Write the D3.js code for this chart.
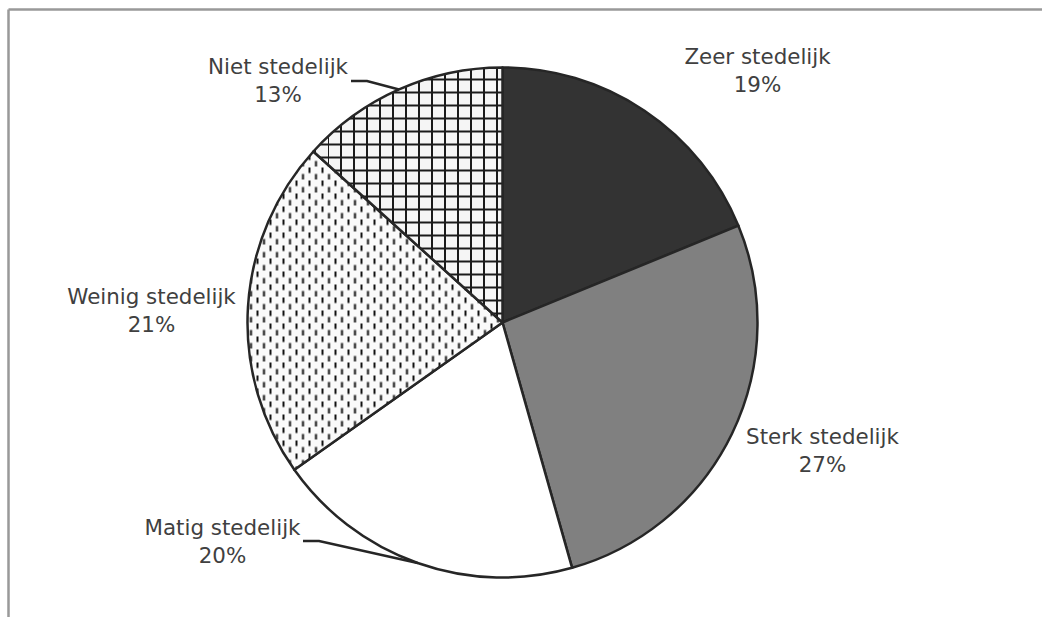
<!DOCTYPE html>
<html>
<head>
<meta charset="utf-8">
<script src="https://cdn.jsdelivr.net/npm/d3@7/dist/d3.min.js"></script>
<style>
html,body{margin:0;padding:0;background:#fff;}
svg{display:block;}
</style>
</head>
<body>
<svg id="chart" width="1042" height="617"></svg>
<script>
// ---- data ----
const categories = ["Zeer stedelijk", "Sterk stedelijk", "Matig stedelijk", "Weinig stedelijk", "Niet stedelijk"];
const values = [18.8, 26.8, 19.6, 21.5, 13.3];
const percentLabels = ["19%", "27%", "20%", "21%", "13%"];
const fills = ["#333333", "#808080", "#ffffff", "url(#dashes)", "url(#grid)"];

// ---- layout (label anchor offsets from pie center, leader start offsets) ----
const labelAnchors = [[255, -259], [320, 121], [-280, 212], [-351, -19], [-224.5, -249]];
const leaderStarts = [null, null, [-199.5, 218.5], null, [-151.5, -241.5]];

const W = 1042, H = 617;
const cx = 502.5, cy = 322.5, R = 255;

const svg = d3.select("#chart");
const defs = svg.append("defs");

// grid pattern
const g1 = defs.append("pattern").attr("id", "grid").attr("patternUnits", "userSpaceOnUse")
  .attr("width", 13).attr("height", 13).attr("x", cx - 2).attr("y", 3);
g1.append("rect").attr("width", 13).attr("height", 13).attr("fill", "#f5f5f5");
g1.append("rect").attr("x", 0).attr("y", 0).attr("width", 2).attr("height", 13).attr("fill", "#1a1a1a");
g1.append("rect").attr("x", 0).attr("y", 0).attr("width", 13).attr("height", 2).attr("fill", "#1a1a1a");

// vertical dashes pattern
const g2 = defs.append("pattern").attr("id", "dashes").attr("patternUnits", "userSpaceOnUse")
  .attr("width", 13).attr("height", 13).attr("x", 0).attr("y", 0);
g2.append("rect").attr("width", 13).attr("height", 13).attr("fill", "#fafafa");
g2.append("rect").attr("x", 1).attr("y", 1).attr("width", 2).attr("height", 5.5).attr("fill", "#111");
g2.append("rect").attr("x", 7.5).attr("y", 7.5).attr("width", 2).attr("height", 5.5).attr("fill", "#111");

// frame (cropped)
svg.append("line").attr("x1", 8.5).attr("x2", W + 5).attr("y1", 9.5).attr("y2", 9.5)
  .attr("stroke", "#999").attr("stroke-width", 2.5);
svg.append("line").attr("x1", 8.5).attr("x2", 8.5).attr("y1", 9.5).attr("y2", H + 5)
  .attr("stroke", "#999").attr("stroke-width", 2.5);

const data = categories.map((c, i) => ({ name: c, value: values[i], pct: percentLabels[i], fill: fills[i], i }));

const pie = d3.pie().sort(null).value(d => d.value);
const arcs = pie(data);
const arc = d3.arc().innerRadius(0).outerRadius(R);

const g = svg.append("g").attr("transform", `translate(${cx},${cy})`);

g.selectAll("path.slice").data(arcs).enter().append("path")
  .attr("class", "slice")
  .attr("d", arc)
  .attr("fill", d => d.data.fill)
  .attr("stroke", "#262626")
  .attr("stroke-width", 2.5)
  .attr("stroke-linejoin", "round");

// leader lines
arcs.forEach((a, i) => {
  if (!leaderStarts[i]) return;
  const mid = (a.startAngle + a.endAngle) / 2;
  const ex = R * Math.sin(mid), ey = -R * Math.cos(mid);
  const [sx, sy] = leaderStarts[i];
  g.append("polyline")
    .attr("points", `${sx},${sy} ${sx + 16},${sy} ${ex},${ey}`)
    .attr("fill", "none").attr("stroke", "#262626").attr("stroke-width", 2.5);
});

// labels
arcs.forEach((a, i) => {
  const [lx, ly] = labelAnchors[i];
  const t = g.append("text")
    .attr("x", lx).attr("y", ly)
    .attr("text-anchor", "middle")
    .attr("font-family", "'DejaVu Sans', Verdana, sans-serif")
    .attr("font-size", 21.4)
    .attr("fill", "#404040");
  t.append("tspan").attr("x", lx).attr("dy", 0).text(a.data.name);
  t.append("tspan").attr("x", lx).attr("dy", 28.5).text(a.data.pct);
});
</script>
</body>
</html>
